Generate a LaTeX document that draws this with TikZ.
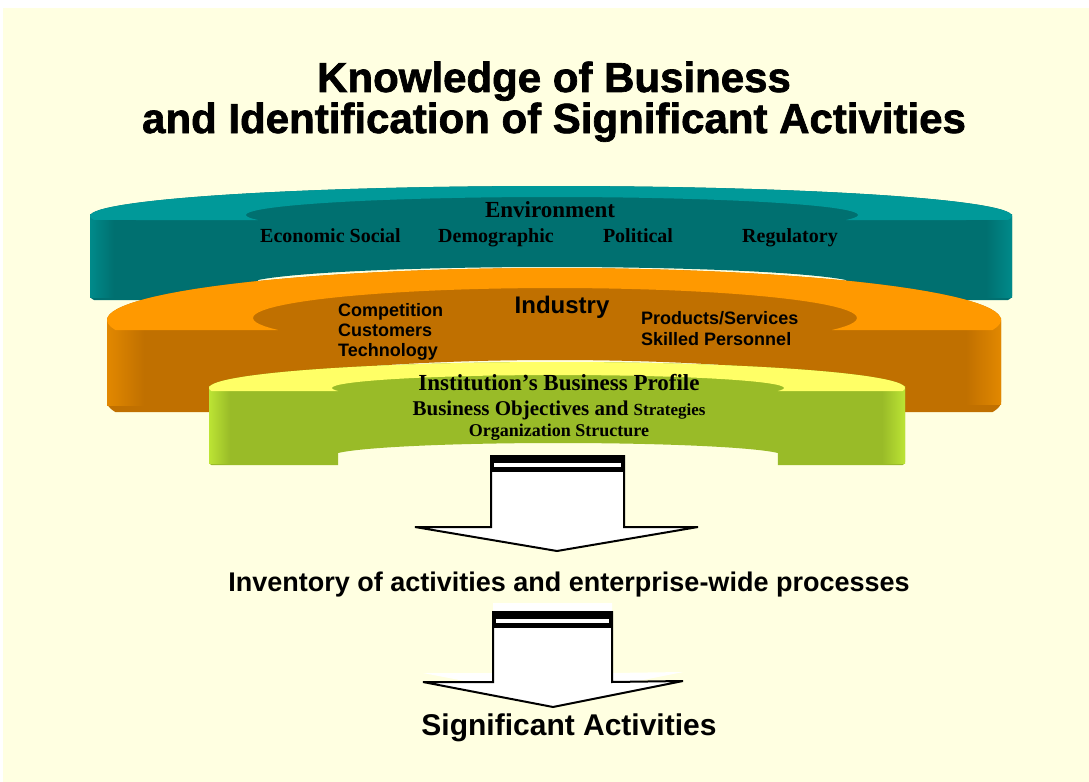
\documentclass[tikz,border=0pt]{standalone}
\usepackage{fontspec}
\setmainfont{Liberation Serif}
\setsansfont{Liberation Sans}
\newfontfamily\headfont{Liberation Sans}[BoldFeatures={FakeBold=1.6}]
\definecolor{bgyellow}{RGB}{255,255,225}
\definecolor{envtop}{RGB}{0,153,153}
\definecolor{envside}{RGB}{0,112,112}
\definecolor{envlight}{RGB}{0,138,138}
\definecolor{indtop}{RGB}{255,153,0}
\definecolor{indside}{RGB}{192,112,0}
\definecolor{indlight}{RGB}{226,136,0}
\definecolor{insttop}{RGB}{255,255,102}
\definecolor{instside}{RGB}{153,187,40}
\definecolor{instlight}{RGB}{188,228,52}

\begin{document}
\begin{tikzpicture}[x=1bp, y=-1bp, samples=60,
    heading/.style={font=\headfont\bfseries\fontsize{42bp}{48bp}\selectfont, inner sep=0pt},
    serifbig/.style={font=\bfseries\fontsize{23bp}{26bp}\selectfont, inner sep=0pt},
    seriflbl/.style={font=\bfseries\fontsize{20bp}{22bp}\selectfont, inner sep=0pt},
    sanslbl/.style={font=\sffamily\bfseries\fontsize{18bp}{20bp}\selectfont, inner sep=0pt},
    blockarrow/.style={fill=white, draw=black, line width=2bp, line join=miter}]
      \useasboundingbox (0,0) rectangle (1089,782);
      \fill[white] (0,0) rectangle (1089,782);
      \fill[bgyellow] (3,8) rectangle (1089,782);

      % environment ring
      \fill[envside] (90,216) -- plot[domain=180:187.66] ({551+461*cos(\x)},{296-30*sin(\x)})
        -- (258.1,300) -- plot[domain=163.87:16.13] ({552+306*cos(\x)},{285-18*sin(\x)})
        -- (845.9,300) -- plot[domain=-7.66:0] ({551+461*cos(\x)},{296-30*sin(\x)})
        -- plot[domain=0:180] ({551+461*cos(\x)},{216-30*sin(\x)}) -- cycle;
      \shade[left color=envlight, right color=envside] (90,214) rectangle (114,297);
      \shade[left color=envside, right color=envlight] (986,214) rectangle (1012,297);
      \fill[envtop] plot[domain=187.66:-7.66] ({551+461*cos(\x)},{216-30*sin(\x)})
        -- plot[domain=-16.13:196.13] ({552+306*cos(\x)},{215-18*sin(\x)}) -- cycle;

      \node[serifbig, anchor=base] (env) at (550,217) {Environment};
      \node[seriflbl, anchor=base west] (econ) at (260,242) {Economic Social};
      \node[seriflbl, anchor=base] (demo) at (496,242) {Demographic};
      \node[seriflbl, anchor=base] (pol) at (638,242) {Political};
      \node[seriflbl, anchor=base] (reg) at (790,242) {Regulatory};

      % industry ring
      \fill[indside] (107,320) -- plot[domain=180:191.09] ({554+447*cos(\x)},{402-52*sin(\x)})
        -- (278.2,412) -- plot[domain=156.42:23.58] ({555+302*cos(\x)},{390-30*sin(\x)})
        -- (831.8,412) -- plot[domain=-11.09:0] ({554+447*cos(\x)},{402-52*sin(\x)})
        -- plot[domain=0:180] ({554+447*cos(\x)},{320-52*sin(\x)}) -- cycle;
      \shade[left color=indlight, right color=indside] (107,318) rectangle (144,405);
      \shade[left color=indside, right color=indlight] (966,318) rectangle (1001,404);
      \fill[indtop] plot[domain=191.09:-11.09] ({554+447*cos(\x)},{320-52*sin(\x)})
        -- plot[domain=-23.58:203.58] ({555+302*cos(\x)},{318-30*sin(\x)}) -- cycle;

      \node[sanslbl, font=\sffamily\bfseries\fontsize{24bp}{26bp}\selectfont, anchor=base] (ind) at (562,313) {Industry};
      \node[sanslbl, anchor=base west] (comp) at (338,316) {Competition};
      \node[sanslbl, anchor=base west] (cust) at (338,336) {Customers};
      \node[sanslbl, anchor=base west] (tech) at (338,356) {Technology};
      \node[sanslbl, anchor=base west] (prod) at (641,324) {Products/Services};
      \node[sanslbl, anchor=base west] (skill) at (641,345) {Skilled Personnel};

      % institution ring
      \fill[instside] (209,388) -- plot[domain=180:186.63] ({557+348*cos(\x)},{462-26*sin(\x)})
        -- (338.1,465) -- plot[domain=166.66:13.34] ({558+226*cos(\x)},{456-13*sin(\x)})
        -- (777.9,465) -- plot[domain=-6.63:0] ({557+348*cos(\x)},{462-26*sin(\x)})
        -- plot[domain=0:180] ({557+348*cos(\x)},{388-26*sin(\x)}) -- cycle;
      \shade[left color=instlight, right color=instside] (209,386) rectangle (230,463);
      \shade[left color=instside, right color=instlight] (882,386) rectangle (905,463);
      \fill[insttop] plot[domain=186.63:-6.63] ({557+348*cos(\x)},{388-26*sin(\x)})
        -- plot[domain=-13.34:193.34] ({558+226*cos(\x)},{388-13*sin(\x)}) -- cycle;

      \node[serifbig, anchor=base] (inst) at (559,390) {Institution’s Business Profile};
      \node[seriflbl, font=\bfseries\fontsize{21bp}{23bp}\selectfont, anchor=base] (obj) at (559,415)
        {Business Objectives and {\fontsize{17bp}{18bp}\selectfont Strategies}};
      \node[seriflbl, font=\bfseries\fontsize{18bp}{20bp}\selectfont, anchor=base] (org) at (559,436) {Organization Structure};

      % first arrow
      \draw[blockarrow] (491,456) -- (624,456) -- (624,527) -- (698,527) -- (557,551)
        -- (415,527) -- (491,527) -- cycle;
      \fill (491,456) rectangle (624,472);
      \fill[white] (494,463) rectangle (621,467);

      \node[sanslbl, font=\sffamily\bfseries\fontsize{27bp}{30bp}\selectfont, anchor=base] (inv) at (569,591)
        {Inventory of activities and enterprise-wide processes};

      % second arrow
      \fill[white] (493,603) -- (612,603) -- (612,673) -- (683,672) -- (553,698)
        -- (423,673) -- (493,673) -- cycle;
      \draw[blockarrow] (493,612) -- (612,612) -- (612,682) -- (683,681) -- (553,707)
        -- (423,682) -- (493,682) -- cycle;
      \fill (493,612) rectangle (612,628);
      \fill[white] (496,619) rectangle (609,623);

      \node[sanslbl, font=\sffamily\bfseries\fontsize{30bp}{33bp}\selectfont, anchor=base] (sig) at (569,735) {Significant Activities};

      \node[heading, anchor=base] (title1) at (554,92) {Knowledge of Business};
      \node[heading, anchor=base] (title2) at (554,133) {and Identification of Significant Activities};
\end{tikzpicture}
\end{document}
